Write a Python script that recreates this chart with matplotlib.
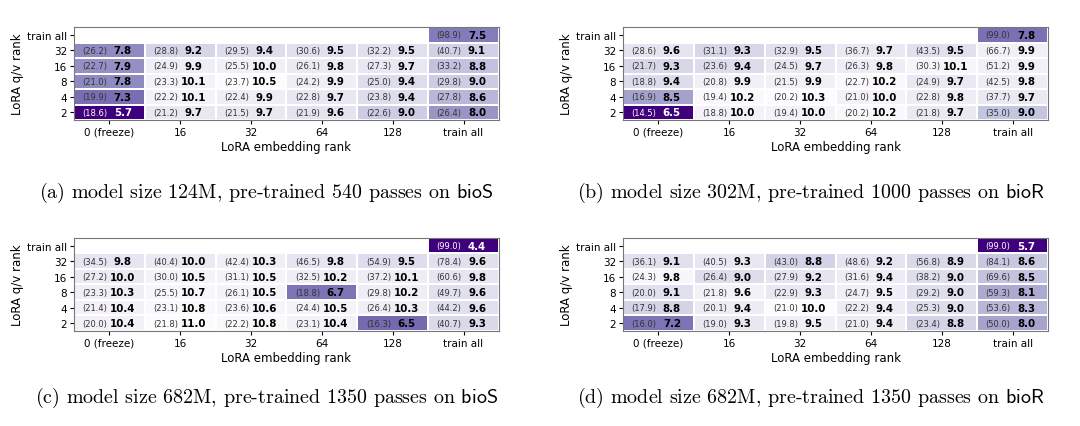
import numpy as np
import matplotlib
matplotlib.use('Agg')
import matplotlib.pyplot as plt

plt.rcParams['mathtext.fontset'] = 'cm'

col_labels = ['0 (freeze)', '16', '32', '64', '128', 'train all']
row_labels = ['train all', '32', '16', '8', '4', '2']
nan = np.nan

# bold numbers (colour), rows top -> bottom
val_a = [[nan, nan, nan, nan, nan, 7.5],
         [7.8, 9.2, 9.4, 9.5, 9.5, 9.1],
         [7.9, 9.9, 10.0, 9.8, 9.7, 8.8],
         [7.8, 10.1, 10.5, 9.9, 9.4, 9.0],
         [7.3, 10.1, 9.9, 9.7, 9.4, 8.6],
         [5.7, 9.7, 9.7, 9.6, 9.0, 8.0]]
par_a = [[nan, nan, nan, nan, nan, 98.9],
         [26.2, 28.8, 29.5, 30.6, 32.2, 40.7],
         [22.7, 24.9, 25.5, 26.1, 27.3, 33.2],
         [21.0, 23.3, 23.7, 24.2, 25.0, 29.8],
         [19.9, 22.2, 22.4, 22.8, 23.8, 27.8],
         [18.6, 21.2, 21.5, 21.9, 22.6, 26.4]]

val_b = [[nan, nan, nan, nan, nan, 7.8],
         [9.6, 9.3, 9.5, 9.7, 9.5, 9.9],
         [9.3, 9.4, 9.7, 9.8, 10.1, 9.9],
         [9.4, 9.9, 9.9, 10.2, 9.7, 9.8],
         [8.5, 10.2, 10.3, 10.0, 9.8, 9.7],
         [6.5, 10.0, 10.0, 10.2, 9.7, 9.0]]
par_b = [[nan, nan, nan, nan, nan, 99.0],
         [28.6, 31.1, 32.9, 36.7, 43.5, 66.7],
         [21.7, 23.6, 24.5, 26.3, 30.3, 51.2],
         [18.8, 20.8, 21.5, 22.7, 24.9, 42.5],
         [16.9, 19.4, 20.2, 21.0, 22.8, 37.7],
         [14.5, 18.8, 19.4, 20.2, 21.8, 35.0]]

val_c = [[nan, nan, nan, nan, nan, 4.4],
         [9.8, 10.0, 10.3, 9.8, 9.5, 9.6],
         [10.0, 10.5, 10.5, 10.2, 10.1, 9.8],
         [10.3, 10.7, 10.5, 6.7, 10.2, 9.6],
         [10.4, 10.8, 10.6, 10.5, 10.3, 9.6],
         [10.4, 11.0, 10.8, 10.4, 6.5, 9.3]]
par_c = [[nan, nan, nan, nan, nan, 99.0],
         [34.5, 40.4, 42.4, 46.5, 54.9, 78.4],
         [27.2, 30.0, 31.1, 32.5, 37.2, 60.6],
         [23.3, 25.5, 26.1, 18.8, 29.8, 49.7],
         [21.4, 23.1, 23.6, 24.4, 26.4, 44.2],
         [20.0, 21.8, 22.2, 23.1, 16.3, 40.7]]

val_d = [[nan, nan, nan, nan, nan, 5.7],
         [9.1, 9.3, 8.8, 9.2, 8.9, 8.6],
         [9.8, 9.0, 9.2, 9.4, 9.0, 8.5],
         [9.1, 9.6, 9.3, 9.5, 9.0, 8.1],
         [8.8, 9.4, 10.0, 9.4, 9.0, 8.3],
         [7.2, 9.3, 9.5, 9.4, 8.8, 8.0]]
par_d = [[nan, nan, nan, nan, nan, 99.0],
         [36.1, 40.5, 43.0, 48.6, 56.8, 84.1],
         [24.3, 26.4, 27.9, 31.6, 38.2, 69.6],
         [20.0, 21.8, 22.9, 24.7, 29.2, 59.3],
         [17.9, 20.1, 21.0, 22.2, 25.3, 53.6],
         [16.0, 19.0, 19.8, 21.0, 23.4, 50.0]]

captions = [r'(a) model size 124M, pre-trained 540 passes on $\mathsf{bioS}$',
            r'(b) model size 302M, pre-trained 1000 passes on $\mathsf{bioR}$',
            r'(c) model size 682M, pre-trained 1350 passes on $\mathsf{bioS}$',
            r'(d) model size 682M, pre-trained 1350 passes on $\mathsf{bioR}$']


def draw_panel(ax, val, par):
    v = np.array(val, dtype=float)
    p = np.array(par, dtype=float)
    vmin, vmax = np.nanmin(v), np.nanmax(v)
    ax.pcolormesh(np.ma.masked_invalid(v), cmap='Purples_r', vmin=vmin, vmax=vmax,
                  edgecolors='white', linewidth=1.1)
    ax.set_xlim(0, 6)
    ax.set_ylim(6, 0)
    for i in range(6):
        for j in range(6):
            if np.isnan(v[i, j]):
                continue
            dark = (v[i, j] - vmin) / (vmax - vmin) < 0.15
            c = 'white' if dark else 'black'
            c2 = 'white' if dark else '#333333'
            ax.text(j + 0.12, i + 0.5, '(%.1f)' % p[i, j], ha='left', va='center',
                    fontsize=6, color=c2)
            ax.text(j + 0.69, i + 0.5, '%.1f' % v[i, j], ha='center', va='center',
                    fontsize=7.4, fontweight='bold', color=c)
    ax.set_xticks(np.arange(6) + 0.5)
    ax.set_xticklabels(col_labels, fontsize=7.5)
    ax.set_yticks(np.arange(6) + 0.5)
    ax.set_yticklabels(row_labels, fontsize=7.5)
    ax.tick_params(length=3, width=0.8, pad=2)
    ax.set_xlabel('LoRA embedding rank', fontsize=8.5, labelpad=2)
    ax.set_ylabel('LoRA q/v rank', fontsize=8.5, labelpad=2)
    for s in ax.spines.values():
        s.set_color('#777777')
        s.set_linewidth(0.8)


fig = plt.figure(figsize=(10.8, 4.27), dpi=100)
pos = [(0.0685, 0.7166), (0.5769, 0.7166), (0.0685, 0.2225), (0.5769, 0.2225)]
data = [(val_a, par_a), (val_b, par_b), (val_c, par_c), (val_d, par_d)]
cap_pos = [(0.246, 0.548), (0.751, 0.548), (0.247, 0.068), (0.751, 0.068)]
for (x0, y0), (val, par), cap, (cx, cy) in zip(pos, data, captions, cap_pos):
    ax = fig.add_axes([x0, y0, 0.3935, 0.2178])
    draw_panel(ax, val, par)
    fig.text(cx, cy, cap, ha='center', va='center', fontsize=14.4, family='cmr10')

fig.savefig('out.png', dpi=100)
